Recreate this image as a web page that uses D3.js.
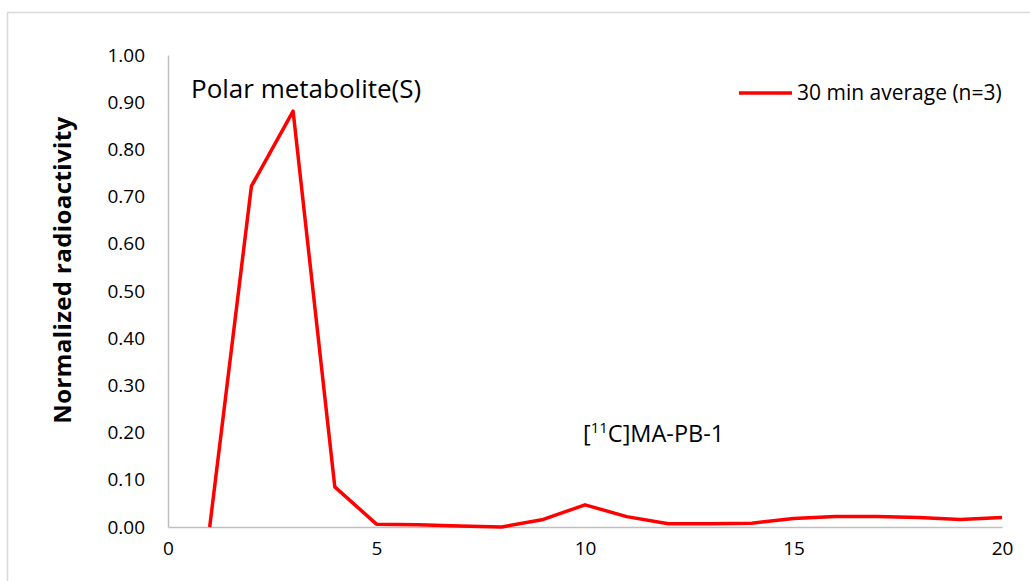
<!DOCTYPE html>
<html lang="en">
<head>
  <meta charset="UTF-8" />
  <title>Normalized radioactivity</title>
  <style>
    html, body {
      margin: 0;
      padding: 0;
      background: #fff;
      font-family: "Open Sans", sans-serif;
    }
  </style>
</head>
<body>
<script src="https://d3js.org/d3.v7.min.js"></script>
<script>
  // fraction number vs normalized radioactivity
  const fractions = [1, 2, 3, 4, 5, 6, 7, 8, 9, 10, 11, 12, 13, 14, 15, 16, 17, 18, 19, 20];
  const average30 = [0.000, 0.722, 0.881, 0.085, 0.006, 0.005, 0.002, 0.000, 0.016, 0.047,
                     0.022, 0.007, 0.007, 0.008, 0.018, 0.022, 0.022, 0.020, 0.016, 0.020];
  const xTicks = [0, 5, 10, 15, 20];
  const yTicks = [0, 0.1, 0.2, 0.3, 0.4, 0.5, 0.6, 0.7, 0.8, 0.9, 1.0];
  const seriesName = "30 min average (n=3)";

  const width = 1030;
  const height = 581;
  const marginTop = 55;
  const marginRight = 28;
  const marginBottom = 54;
  const marginLeft = 168;

  const x = d3.scaleLinear().domain([0, 20]).range([marginLeft, width - marginRight]);
  const y = d3.scaleLinear().domain([0, 1]).range([height - marginBottom, marginTop]);

  const svg = d3.select("body").append("svg")
    .attr("width", width)
    .attr("height", height)
    .attr("viewBox", [0, 0, width, height])
    .style("display", "block");

  // chart frame
  svg.append("rect")
    .attr("x", 7.5).attr("y", 12.5)
    .attr("width", width + 20).attr("height", height + 20)
    .attr("fill", "none")
    .attr("stroke", "#d9d9d9")
    .attr("stroke-width", 1.5);

  const gx = svg.append("g")
    .attr("transform", `translate(0,${y(0)})`)
    .call(d3.axisBottom(x).tickValues(xTicks).tickSize(0).tickPadding(15).tickFormat(d3.format("d")));
  gx.select(".domain").attr("stroke", "#bfbfbf").attr("stroke-width", 1.5);
  gx.selectAll("text").attr("font-size", 19).attr("font-family", "Open Sans").attr("fill", "#000");

  const gy = svg.append("g")
    .attr("transform", `translate(${x(0)},0)`)
    .call(d3.axisLeft(y).tickValues(yTicks).tickSize(0).tickPadding(23).tickFormat(d3.format(".2f")));
  gy.select(".domain").attr("stroke", "#bfbfbf").attr("stroke-width", 1.5);
  gy.selectAll("text").attr("font-size", 19).attr("font-family", "Open Sans").attr("fill", "#000");

  svg.append("text")
    .attr("transform", `translate(71,270) rotate(-90)`)
    .attr("text-anchor", "middle")
    .attr("font-size", 24)
    .attr("letter-spacing", 0.4)
    .attr("font-weight", "bold")
    .attr("font-family", "Open Sans")
    .text("Normalized radioactivity");

  const line = d3.line()
    .x((d, i) => x(fractions[i]))
    .y(d => y(d));

  svg.append("path")
    .datum(average30)
    .attr("fill", "none")
    .attr("stroke", "#ff0000")
    .attr("stroke-width", 3.5)
    .attr("stroke-linejoin", "round")
    .attr("d", line);

  // annotations
  svg.append("text")
    .attr("x", 191).attr("y", 98)
    .attr("font-size", 26)
    .attr("font-family", "Open Sans")
    .text("Polar metabolite(S)");

  const lab = svg.append("text")
    .attr("x", 583).attr("y", 442)
    .attr("font-size", 23.5)
    .attr("font-family", "Open Sans");
  lab.append("tspan").text("[");
  lab.append("tspan").attr("font-size", 15).attr("dy", -9).text("11");
  lab.append("tspan").attr("dy", 9).text("C]MA-PB-1");

  // legend
  svg.append("line")
    .attr("x1", 739).attr("x2", 792)
    .attr("y1", 93).attr("y2", 93)
    .attr("stroke", "#ff0000")
    .attr("stroke-width", 3.5);
  svg.append("text")
    .attr("x", 797).attr("y", 100)
    .attr("font-size", 21)
    .attr("font-family", "Open Sans")
    .text(seriesName);
</script>
</body>
</html>
